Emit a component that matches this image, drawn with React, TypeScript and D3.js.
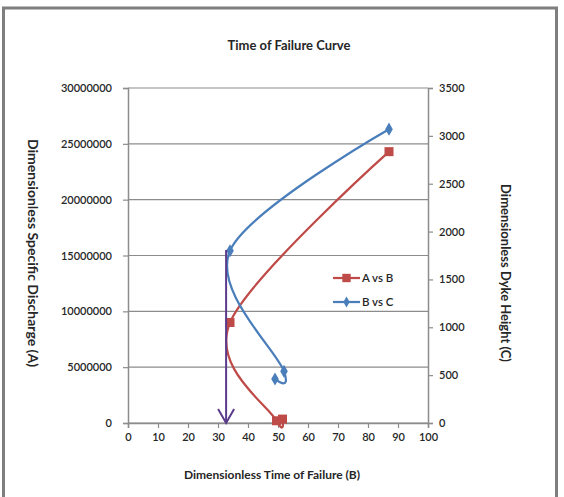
import React, { useEffect, useRef } from 'react';
import * as d3 from 'd3';

// A vs B series (x = B, y = A on left axis)
const abTime = [87, 34, 49.5, 51.5];
const abDischarge = [24300000, 9000000, 200000, 350000];

// B vs C series (x = B, y = C on right axis)
const bcTime = [87, 34, 52, 49];
const bcHeight = [3070, 1800, 540, 460];

// failure time arrow
const arrowTime = 32.7;
const arrowTop = 15500000;

const xTicks = [0, 10, 20, 30, 40, 50, 60, 70, 80, 90, 100];
const leftTicks = [0, 5000000, 10000000, 15000000, 20000000, 25000000, 30000000];
const rightTicks = [0, 500, 1000, 1500, 2000, 2500, 3000, 3500];

const seriesNames = ['A vs B', 'B vs C'];

const App: React.FC = () => {
  const ref = useRef<SVGSVGElement | null>(null);

  useEffect(() => {
    if (!ref.current) return;
    const svg = d3.select(ref.current);
    svg.selectAll('*').remove();

    const font = 'Lato, "Open Sans", sans-serif';
    const red = '#be4b48';
    const blue = '#4a7ebb';
    const grey = '#8c8c8c';
    const ink = '#262626';

    const left = 128, right = 428, top = 88, bottom = 423;

    const x = d3.scaleLinear().domain([0, 100]).range([left, right]);
    const yA = d3.scaleLinear().domain([0, 30000000]).range([bottom, top]);
    const yC = d3.scaleLinear().domain([0, 3500]).range([bottom, top]);

    // outer frame
    svg.append('rect')
      .attr('x', 3.5).attr('y', 8).attr('width', 553).attr('height', 496)
      .attr('fill', 'white').attr('stroke', '#7f7f7f').attr('stroke-width', 3);

    // title
    svg.append('text')
      .attr('x', 289).attr('y', 50)
      .attr('text-anchor', 'middle')
      .style('font-family', font).style('font-size', '13px').style('font-weight', 'bold')
      .attr('fill', ink)
      .text('Time of Failure Curve');

    // gridlines
    svg.append('g').selectAll('line')
      .data(leftTicks)
      .enter().append('line')
      .attr('x1', left).attr('x2', right)
      .attr('y1', d => yA(d)).attr('y2', d => yA(d))
      .attr('stroke', grey).attr('stroke-width', 1.2);

    // left axis
    const gl = svg.append('g').attr('transform', `translate(${left},0)`)
      .call(d3.axisLeft(yA).tickValues(leftTicks).tickFormat(d3.format('d')).tickSize(5).tickPadding(11));
    // right axis
    const gr = svg.append('g').attr('transform', `translate(${right},0)`)
      .call(d3.axisRight(yC).tickValues(rightTicks).tickFormat(d3.format('d')).tickSize(5).tickPadding(6));
    // bottom axis
    const gb = svg.append('g').attr('transform', `translate(0,${bottom})`)
      .call(d3.axisBottom(x).tickValues(xTicks).tickSize(5).tickPadding(5));

    [gl, gr, gb].forEach(g => {
      g.select('.domain').attr('stroke', grey).attr('stroke-width', 1.5);
      g.selectAll('.tick line').attr('stroke', grey).attr('stroke-width', 1.2);
      g.selectAll('text')
        .style('font-family', font).style('font-size', '11px').style('font-weight', '600')
        .attr('fill', ink);
    });

    // axis titles
    svg.append('text')
      .attr('transform', `translate(28,253) rotate(90)`)
      .attr('text-anchor', 'middle')
      .style('font-family', font).style('font-size', '14px').style('font-weight', 'bold')
      .attr('fill', ink)
      .text('Dimensionless Specific Discharge (A)');
    svg.append('text')
      .attr('transform', `translate(501,273) rotate(90)`)
      .attr('text-anchor', 'middle')
      .style('font-family', font).style('font-size', '13px').style('font-weight', 'bold')
      .attr('fill', ink)
      .text('Dimensionless Dyke Height (C)');
    svg.append('text')
      .attr('x', 272).attr('y', 479)
      .attr('text-anchor', 'middle')
      .style('font-family', font).style('font-size', '12px').style('font-weight', 'bold')
      .attr('fill', ink)
      .text('Dimensionless Time of Failure (B)');

    // A vs B
    const abPts: [number, number][] = abTime.map((t, i) => [x(t), yA(abDischarge[i])]);
    const line = d3.line().curve(d3.curveCardinal.tension(0));
    svg.append('path')
      .attr('d', line(abPts))
      .attr('fill', 'none').attr('stroke', red).attr('stroke-width', 2.25);
    svg.append('g').selectAll('rect')
      .data(abPts)
      .enter().append('rect')
      .attr('x', d => d[0] - 4.5).attr('y', d => d[1] - 4.5)
      .attr('width', 9).attr('height', 9)
      .attr('fill', red);

    // B vs C
    const bcPts: [number, number][] = bcTime.map((t, i) => [x(t), yC(bcHeight[i])]);
    svg.append('path')
      .attr('d', line(bcPts))
      .attr('fill', 'none').attr('stroke', blue).attr('stroke-width', 2.25);
    const diamond = d3.symbol().type(d3.symbolDiamond).size(50);
    svg.append('g').selectAll('path')
      .data(bcPts)
      .enter().append('path')
      .attr('d', diamond)
      .attr('transform', d => `translate(${d[0]},${d[1]})`)
      .attr('fill', blue);

    // arrow
    const ax = x(arrowTime);
    const arrow = svg.append('g').attr('stroke', '#5b3b8c').attr('stroke-width', 2).attr('fill', 'none');
    arrow.append('line')
      .attr('x1', ax).attr('x2', ax)
      .attr('y1', yA(arrowTop)).attr('y2', yA(0));
    arrow.append('path')
      .attr('d', `M${ax - 8},${yA(0) - 14}L${ax},${yA(0)}L${ax + 8},${yA(0) - 14}`);

    // legend
    const legend = svg.selectAll('.legend')
      .data(seriesNames)
      .enter().append('g')
      .attr('class', 'legend')
      .attr('transform', (d, i) => `translate(333,${278 + i * 24})`);
    legend.append('line')
      .attr('x1', 0).attr('x2', 27).attr('y1', 0).attr('y2', 0)
      .attr('stroke', (d, i) => (i === 0 ? red : blue)).attr('stroke-width', 2.25);
    legend.append('path')
      .attr('d', (d, i) => (i === 0
        ? d3.symbol().type(d3.symbolSquare).size(70)()
        : d3.symbol().type(d3.symbolDiamond).size(35)()))
      .attr('transform', 'translate(13.5,0)')
      .attr('fill', (d, i) => (i === 0 ? red : blue));
    legend.append('text')
      .attr('x', 29).attr('y', 0).attr('dy', '.35em')
      .style('font-family', font).style('font-size', '11.5px').style('font-weight', '600')
      .attr('fill', ink)
      .text(d => d);
  }, []);

  return (
    <svg ref={ref} width={564} height={497}
      style={{ position: 'absolute', left: 0, top: 0, background: 'white' }} />
  );
};

export default App;
